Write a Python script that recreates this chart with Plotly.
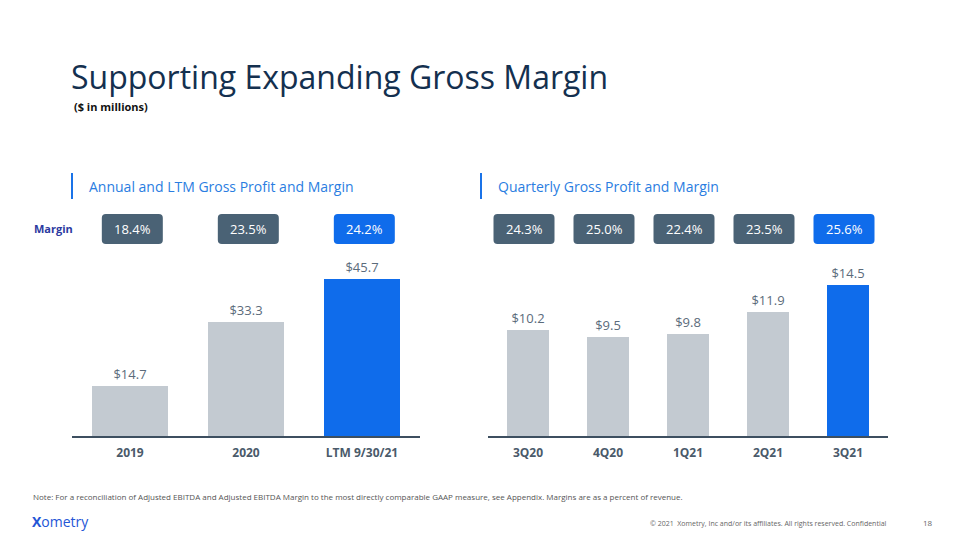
import plotly.graph_objects as go

# ---- data ----
annual_labels = ["2019", "2020", "LTM 9/30/21"]
annual_profit = [14.7, 33.3, 45.7]
annual_margin = ["18.4%", "23.5%", "24.2%"]

quarter_labels = ["3Q20", "4Q20", "1Q21", "2Q21", "3Q21"]
quarter_profit = [10.2, 9.5, 9.8, 11.9, 14.5]
quarter_margin = ["24.3%", "25.0%", "22.4%", "23.5%", "25.6%"]

GREY = "#c3cad1"
BLUE = "#0f6ceb"
BOX_DARK = "#4a6275"
NAVY = "#14304f"
LBL = "#5b6b7b"
AXIS = "#3d4f60"
FONT = "Open Sans"

OFF = 8  # page body margin
W, H = 960 - OFF, 540 - OFF

def px_x(x):
    return (x - OFF) / W

def px_y(y):
    return (540 - y) / H

fig = go.Figure()

def add_bars(labels, values, xa, ya):
    n = len(values)
    colors = [GREY] * (n - 1) + [BLUE]
    fig.add_trace(go.Bar(
        x=list(range(n)), y=values, xaxis=xa, yaxis=ya,
        marker=dict(color=colors, line=dict(width=0)),
        width=0.66 if n == 3 else 0.52,
        texttemplate="$%{y:.1f}", textposition="outside",
        outsidetextfont=dict(family=FONT, size=13, color=LBL),
        cliponaxis=False, showlegend=False, hoverinfo="skip",
    ))

add_bars(annual_labels, annual_profit, "x", "y")
add_bars(quarter_labels, quarter_profit, "x2", "y2")

ydom = [px_y(436), px_y(260)]
axis_common = dict(
    showgrid=False, zeroline=False, showline=True, linecolor=AXIS, linewidth=2,
    ticks="", tickfont=dict(family=FONT, size=12, color="#4a5a6a", weight="bold"),
    ticklabelstandoff=5, fixedrange=True,
)

fig.update_layout(
    width=W, height=H, margin=dict(l=0, r=0, t=0, b=0),
    paper_bgcolor="white", plot_bgcolor="white",
    bargap=0,
    xaxis=dict(domain=[px_x(72), px_x(420)], range=[-0.5, 2.5],
               tickvals=list(range(3)), ticktext=annual_labels, anchor="y", **axis_common),
    yaxis=dict(domain=ydom, range=[0, 176 / 3.435], visible=False, anchor="x"),
    xaxis2=dict(domain=[px_x(488), px_x(888)], range=[-0.5, 4.5],
                tickvals=list(range(5)), ticktext=quarter_labels, anchor="y2", **axis_common),
    yaxis2=dict(domain=ydom, range=[0, 176 / 10.4], visible=False, anchor="x2"),
    font=dict(family=FONT),
)

# margin boxes (rounded rectangles anchored to categories)
def rrect(w, h, r):
    x0, x1, y0, y1 = -w / 2, w / 2, -h / 2, h / 2
    return (f"M {x0+r},{y0} L {x1-r},{y0} Q {x1},{y0} {x1},{y0+r} "
            f"L {x1},{y1-r} Q {x1},{y1} {x1-r},{y1} L {x0+r},{y1} "
            f"Q {x0},{y1} {x0},{y1-r} L {x0},{y0+r} Q {x0},{y0} {x0+r},{y0} Z")

box_y = px_y(229)

def add_boxes(margins, xref, offset):
    n = len(margins)
    for i, m in enumerate(margins):
        col = BLUE if i == n - 1 else BOX_DARK
        fig.add_shape(type="path", xref=xref, yref="paper",
                      xsizemode="pixel", ysizemode="pixel",
                      xanchor=i + offset, yanchor=box_y,
                      path=rrect(61, 30, 4), fillcolor=col, line=dict(width=0))
        fig.add_annotation(x=i + offset, y=box_y, xref=xref, yref="paper",
                           text=m, showarrow=False,
                           font=dict(family=FONT, size=13, color="white"))

add_boxes(annual_margin, "x", 0.02)
add_boxes(quarter_margin, "x2", -0.05)

# title & subtitles
fig.add_annotation(x=px_x(69), y=px_y(76), xref="paper", yref="paper",
                   text="Supporting Expanding Gross Margin", showarrow=False,
                   xanchor="left", yanchor="middle",
                   font=dict(family=FONT, size=32, color=NAVY))
fig.add_annotation(x=px_x(72), y=px_y(106), xref="paper", yref="paper",
                   text="<b>($ in millions)</b>", showarrow=False,
                   xanchor="left", yanchor="middle",
                   font=dict(family=FONT, size=11, color="#111111"))

for xl, txt in [(72, "Annual and LTM Gross Profit and Margin"),
                (481, "Quarterly Gross Profit and Margin")]:
    fig.add_shape(type="line", xref="paper", yref="paper",
                  x0=px_x(xl), x1=px_x(xl), y0=px_y(173), y1=px_y(199),
                  line=dict(color="#1a73e8", width=2))
    fig.add_annotation(x=px_x(xl + 15), y=px_y(187), xref="paper", yref="paper",
                       text=txt, showarrow=False, xanchor="left", yanchor="middle",
                       font=dict(family=FONT, size=14, color="#2a7de1"))

fig.add_annotation(x=px_x(32), y=px_y(228), xref="paper", yref="paper",
                   text="<b>Margin</b>", showarrow=False, xanchor="left", yanchor="middle",
                   font=dict(family=FONT, size=11, color="#2b3aa0"))

# footer
fig.add_annotation(x=px_x(31), y=px_y(496), xref="paper", yref="paper",
                   text="Note: For a reconciliation of Adjusted EBITDA and Adjusted EBITDA Margin to the most directly comparable GAAP measure, see Appendix. Margins are as a percent of revenue.",
                   showarrow=False, xanchor="left", yanchor="middle",
                   font=dict(family=FONT, size=8, color="#555555"))
fig.add_annotation(x=px_x(30), y=px_y(521), xref="paper", yref="paper",
                   text="<b>X</b>ometry", showarrow=False, xanchor="left", yanchor="middle",
                   font=dict(family=FONT, size=14, color="#2456d6"))
fig.add_annotation(x=px_x(889), y=px_y(523), xref="paper", yref="paper",
                   text="© 2021  Xometry, Inc and/or its affiliates. All rights reserved. Confidential",
                   showarrow=False, xanchor="right", yanchor="middle",
                   font=dict(family=FONT, size=7, color="#666666"))
fig.add_annotation(x=px_x(935), y=px_y(522), xref="paper", yref="paper",
                   text="18", showarrow=False, xanchor="right", yanchor="middle",
                   font=dict(family=FONT, size=8, color="#666666"))

fig.write_html("out.html")
